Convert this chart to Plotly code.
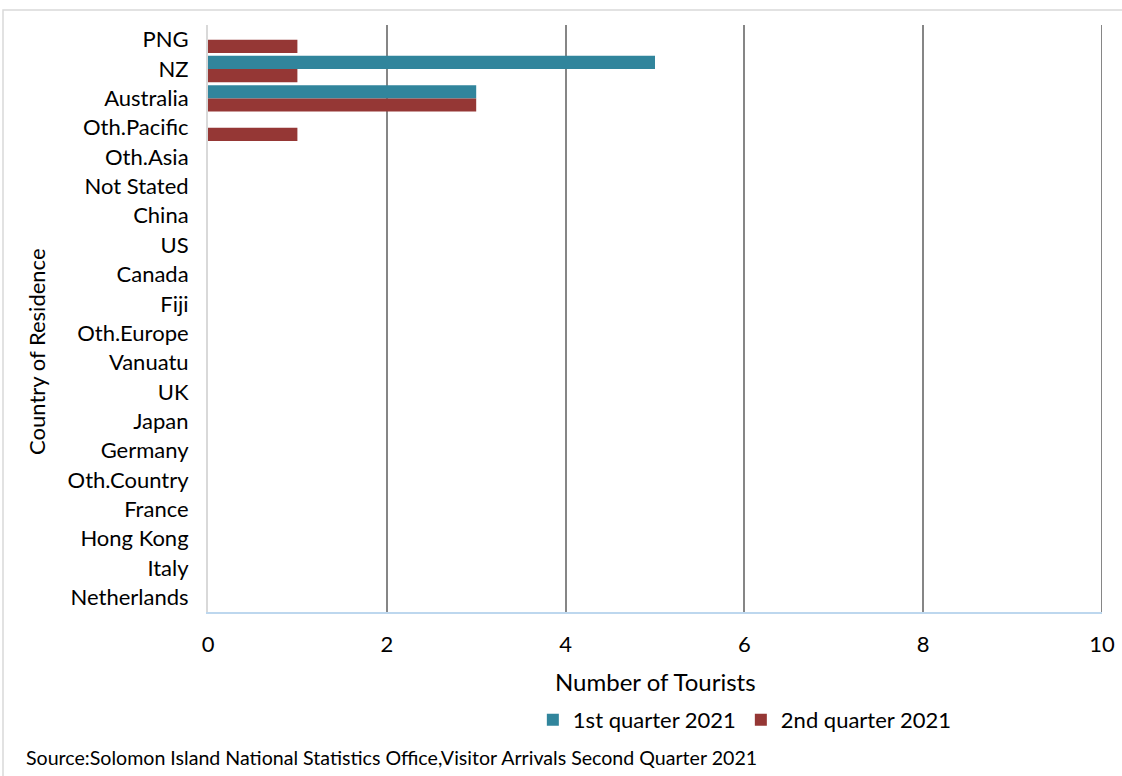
import plotly.graph_objects as go

countries = ["PNG", "NZ", "Australia", "Oth.Pacific", "Oth.Asia", "Not Stated", "China", "US",
             "Canada", "Fiji", "Oth.Europe", "Vanuatu", "UK", "Japan", "Germany", "Oth.Country",
             "France", "Hong Kong", "Italy", "Netherlands"]
q1_2021 = [0, 5, 3, 0, 0, 0, 0, 0, 0, 0, 0, 0, 0, 0, 0, 0, 0, 0, 0, 0]
q2_2021 = [1, 1, 3, 1, 0, 0, 0, 0, 0, 0, 0, 0, 0, 0, 0, 0, 0, 0, 0, 0]
x_ticks = [0, 2, 4, 6, 8, 10]

FONT = "Lato"
fig = go.Figure()
fig.add_trace(go.Bar(y=countries, x=q1_2021, orientation="h", name="1st quarter 2021",
                     marker=dict(color="#31859C", line=dict(width=0))))
fig.add_trace(go.Bar(y=countries, x=q2_2021, orientation="h", name="2nd quarter 2021",
                     marker=dict(color="#953735", line=dict(width=0))))

fig.update_layout(
    width=1122, height=776,
    margin=dict(l=208, r=20, t=25, b=164, autoexpand=False),
    paper_bgcolor="white", plot_bgcolor="white",
    barmode="group", bargap=0.1, bargroupgap=0,
    font=dict(family=FONT, size=22, color="#000000"),
    showlegend=True,
    legend=dict(orientation="h", x=0.6005, y=-0.184, xanchor="center", yanchor="middle",
                font=dict(size=22), traceorder="normal"),
    xaxis=dict(range=[x_ticks[0], x_ticks[-1]], tickvals=x_ticks, showgrid=True,
               gridcolor="#868686", gridwidth=2, automargin=False,
               zeroline=False, showline=True, linecolor="#BDD7EE", linewidth=2,
               ticks="", ticklabelstandoff=12, tickfont=dict(size=22)),
    yaxis=dict(autorange="reversed", categoryorder="array", categoryarray=countries,
               showgrid=False, zeroline=False, showline=True, linecolor="#D9D9D9", linewidth=2,
               automargin=False,
               ticks="", ticklabelstandoff=13, tickfont=dict(size=22)),
    annotations=[
        dict(text="Country of Residence", xref="paper", yref="paper", x=-0.1913, y=0.443,
             textangle=-90, showarrow=False, font=dict(size=22), xanchor="center", yanchor="middle"),
        dict(text="Number of Tourists", xref="paper", yref="paper", x=0.5, y=-0.119,
             showarrow=False, font=dict(size=24), xanchor="center", yanchor="middle"),
        dict(text="Source:Solomon Island National Statistics Office,Visitor Arrivals Second Quarter 2021",
             xref="paper", yref="paper", x=-0.206, y=-0.2487, showarrow=False,
             font=dict(size=19.6), xanchor="left", yanchor="middle"),
    ],
    shapes=[
        dict(type="rect", xref="paper", yref="paper", x0=-0.2293, x1=1.05, y0=-0.3, y1=1.0256,
             line=dict(color="#D9D9D9", width=1.5), layer="below"),
        dict(type="line", xref="x", yref="paper", x0=x_ticks[-1], x1=x_ticks[-1], y0=0, y1=1,
             line=dict(color="#868686", width=2), layer="below"),
    ],
)

fig.write_html("out.html", config={"displayModeBar": False},
               post_script="document.body.style.margin='0';document.body.style.overflow='hidden';")
